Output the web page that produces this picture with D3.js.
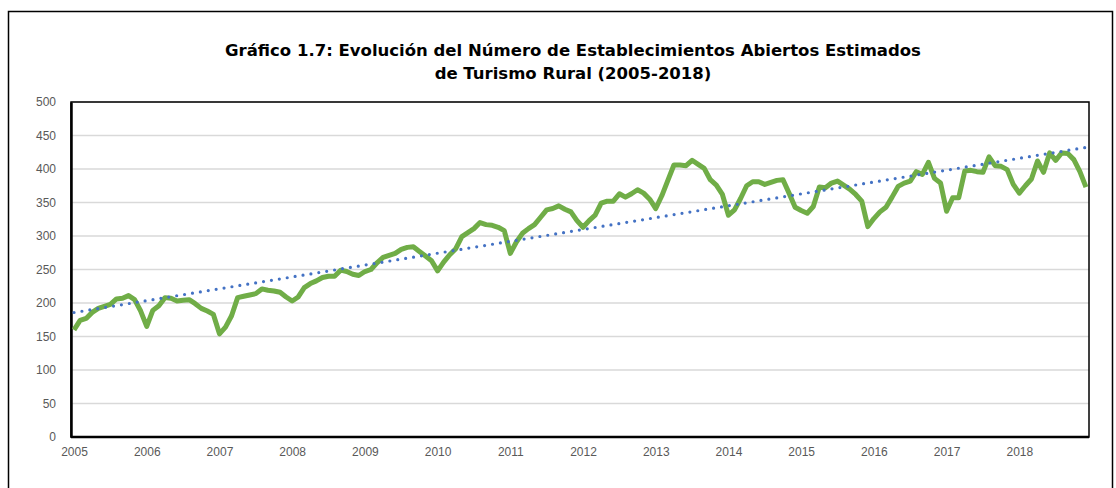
<!DOCTYPE html>
<html>
<head>
<meta charset="utf-8">
<script src="https://cdn.jsdelivr.net/npm/d3@7"></script>
<style>
  body { margin: 0; background: #fff; }
  .title { font-family: "DejaVu Sans", Verdana, sans-serif; font-weight: bold; font-size: 16.5px; fill: #000; }
  .axis text { font-family: "Liberation Sans Narrow", "Arial Narrow", "Liberation Sans", sans-serif; font-size: 12px; fill: #595959; }
</style>
</head>
<body>
<div id="chart"></div>
<script>
// years on the category axis
var years = ["2005", "2006", "2007", "2008", "2009", "2010", "2011",
             "2012", "2013", "2014", "2015", "2016", "2017", "2018"];

// monthly estimated open establishments, one array per year (Jan..Dec)
var v2005 = [160, 174, 177, 186, 192, 195, 198, 206, 207, 211, 205, 188];
var v2006 = [165, 189, 196, 208, 207, 203, 204, 205, 199, 192, 188, 183];
var v2007 = [154, 164, 181, 208, 210, 212, 214, 221, 219, 218, 216, 209];
var v2008 = [203, 209, 223, 229, 233, 238, 240, 240, 249, 247, 243, 241];
var v2009 = [247, 250, 260, 268, 271, 274, 280, 283, 284, 277, 270, 263];
var v2010 = [248, 261, 272, 281, 299, 305, 311, 320, 317, 316, 313, 308];
var v2011 = [274, 291, 304, 311, 317, 328, 339, 341, 345, 340, 336, 323];
var v2012 = [313, 323, 331, 349, 352, 352, 363, 358, 363, 369, 364, 355];
var v2013 = [341, 360, 383, 406, 406, 405, 413, 407, 401, 384, 376, 362];
var v2014 = [331, 339, 356, 375, 381, 381, 377, 380, 383, 384, 364, 343];
var v2015 = [338, 334, 344, 373, 372, 379, 382, 376, 370, 362, 352, 314];
var v2016 = [326, 336, 343, 358, 374, 379, 382, 396, 392, 410, 386, 379];
var v2017 = [337, 357, 357, 397, 398, 396, 395, 418, 405, 404, 399, 377];
var v2018 = [364, 375, 385, 412, 395, 424, 413, 424, 423, 414, 396, 373];

var yTicks = [0, 50, 100, 150, 200, 250, 300, 350, 400, 450, 500];

var titleLines = ["Gráfico 1.7: Evolución del Número de Establecimientos Abiertos Estimados",
                  "de Turismo Rural (2005-2018)"];

var values = [].concat(v2005, v2006, v2007, v2008, v2009, v2010, v2011,
                       v2012, v2013, v2014, v2015, v2016, v2017, v2018);
var data = values.map(function(v, i) { return { i: i, value: v }; });

var W = 1116, H = 488;
var margin = { top: 102, right: 27, bottom: 51, left: 71 },
    width = W - margin.left - margin.right,
    height = H - margin.top - margin.bottom;

var svg = d3.select("#chart").append("svg")
    .attr("width", W)
    .attr("height", H);

// outer chart frame
svg.append("rect")
    .attr("x", 8.5).attr("y", 11.5)
    .attr("width", 1104).attr("height", 490)
    .attr("fill", "none")
    .attr("stroke", "#000")
    .attr("stroke-width", 1.5);

svg.selectAll("text.title")
    .data(titleLines)
    .enter()
    .append("text")
    .attr("class", "title")
    .attr("x", 573)
    .attr("y", function(d, i) { return 56 + i * 23; })
    .attr("text-anchor", "middle")
    .text(function(d) { return d; });

var plot = svg.append("g")
    .attr("transform", "translate(" + margin.left + "," + margin.top + ")");

var x = d3.scalePoint()
    .domain(d3.range(values.length))
    .range([0, width])
    .padding(0.5);

var y = d3.scaleLinear()
    .domain([0, 500])
    .range([height, 0]);

// gridlines
plot.selectAll("line.grid")
    .data(yTicks.slice(1))
    .enter()
    .append("line")
    .attr("class", "grid")
    .attr("x1", 0).attr("x2", width)
    .attr("y1", function(d) { return y(d); })
    .attr("y2", function(d) { return y(d); })
    .attr("stroke", "#d9d9d9")
    .attr("stroke-width", 1.5);

// plot area border
plot.append("rect")
    .attr("width", width).attr("height", height)
    .attr("fill", "none")
    .attr("stroke", "#000")
    .attr("stroke-width", 1.5);

// y axis labels
var yAxis = d3.axisLeft(y).tickValues(yTicks).tickSize(0).tickPadding(15);
plot.append("g").attr("class", "axis").call(yAxis)
    .call(function(g) { g.select(".domain").attr("stroke", "#000").attr("stroke-width", 2.5); });

// x axis labels, one per January
var xAxis = d3.axisBottom(x)
    .tickValues(d3.range(0, values.length, 12))
    .tickFormat(function(d) { return years[d / 12]; })
    .tickSize(0).tickPadding(10);
plot.append("g").attr("class", "axis")
    .attr("transform", "translate(0," + height + ")")
    .call(xAxis)
    .call(function(g) {
        g.select(".domain").attr("d", "M0,0H" + width)
            .attr("stroke", "#000").attr("stroke-width", 2.5);
    });

// data line
var line = d3.line()
    .x(function(d) { return x(d.i); })
    .y(function(d) { return y(d.value); });

plot.append("path")
    .datum(data)
    .attr("d", line)
    .attr("fill", "none")
    .attr("stroke", "#70ad47")
    .attr("stroke-width", 5)
    .attr("stroke-linejoin", "round");

// linear trend line (least squares over the series)
var n = values.length,
    mx = d3.mean(data, function(d) { return d.i; }),
    my = d3.mean(values),
    slope = d3.sum(data, function(d) { return (d.i - mx) * (d.value - my); }) /
            d3.sum(data, function(d) { return (d.i - mx) * (d.i - mx); }),
    icpt = my - slope * mx;

var trend = [0, n - 1].map(function(i) { return { i: i, value: icpt + slope * i }; });

plot.append("path")
    .datum(trend)
    .attr("d", line)
    .attr("fill", "none")
    .attr("stroke", "#4472c4")
    .attr("stroke-width", 3.2)
    .attr("stroke-linecap", "round")
    .attr("stroke-dasharray", "0 8");
</script>
</body>
</html>
